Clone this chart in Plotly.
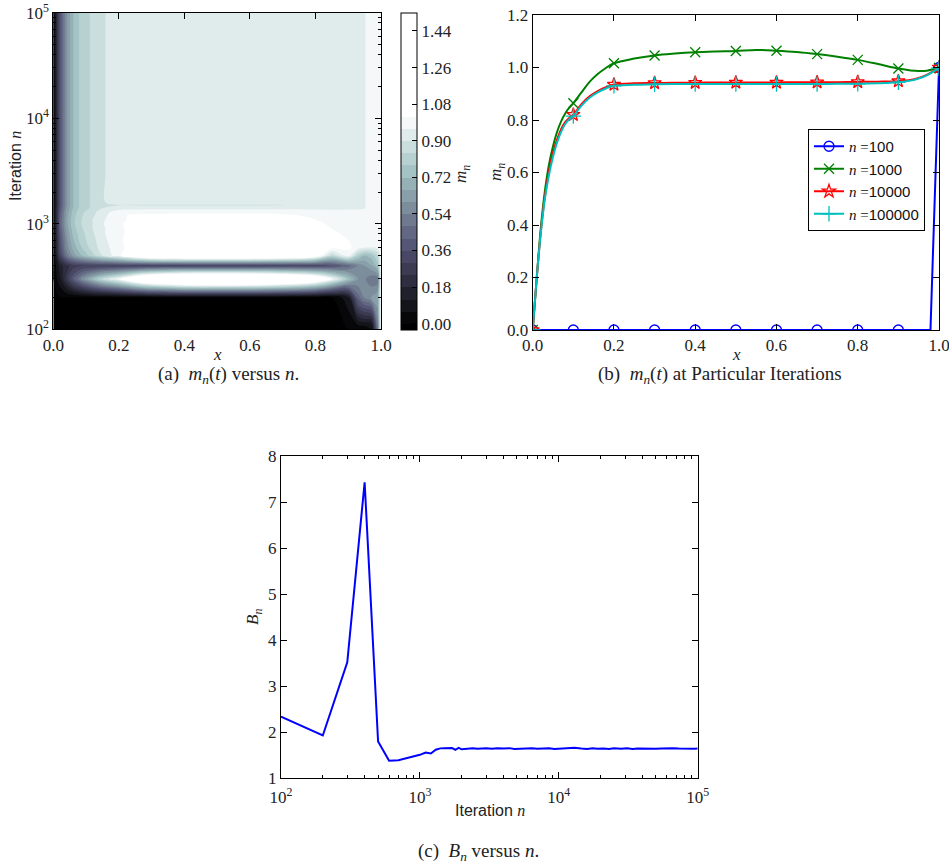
import plotly.graph_objects as go

# ---------------- Panel (a): m_n(x) over iterations (contour) ----------------
grid_x = [0.0, 0.02, 0.04, 0.06, 0.08, 0.10, 0.12, 0.15, 0.20, 0.25, 0.30, 0.40,
          0.50, 0.60, 0.70, 0.80, 0.85, 0.90, 0.93, 0.95, 0.97, 0.99, 1.0]
grid_n = [100, 200, 300, 400, 500, 600, 700, 800, 900, 1000, 1100, 1200, 1300,
          1400, 1500, 1600, 3000, 10000, 30000, 100000]

m_n100 = [0, 0, 0, 0, 0, 0, 0, 0, 0, 0, 0, 0, 0, 0, 0, 0, 0, 0, 0, 0, 0, 0.50, 1.0]
m_n200 = [0, 0, 0, 0, 0, 0, 0, 0, 0, 0, 0, 0, 0, 0, 0, 0, 0, 0.10, 0.45, 0.55, 0.60, 0.65, 1.0]
m_n300 = [0, 0.10, 0.25, 0.40, 0.52, 0.63, 0.72, 0.85, 1.00, 1.20, 1.35, 1.48, 1.50, 1.48, 1.40, 1.22, 1.00, 0.75, 0.60, 0.55, 0.50, 0.50, 1.0]
m_n400 = [0, 0.15, 0.22, 0.27, 0.29, 0.30, 0.30, 0.30, 0.30, 0.30, 0.30, 0.30, 0.30, 0.30, 0.31, 0.33, 0.37, 0.45, 0.55, 0.60, 0.65, 0.75, 1.0]
m_n500 = [0, 0.30, 0.50, 0.62, 0.70, 0.76, 0.82, 0.90, 1.00, 1.15, 1.25, 1.30, 1.30, 1.30, 1.25, 1.10, 0.85, 1.00, 0.80, 0.72, 0.75, 0.85, 1.0]
m_n600 = [0, 0.35, 0.56, 0.68, 0.76, 0.82, 0.87, 0.93, 1.00, 1.06, 1.12, 1.15, 1.15, 1.15, 1.14, 1.10, 1.05, 1.03, 1.00, 0.98, 0.97, 0.98, 1.0]
m_n700 = [0, 0.37, 0.58, 0.71, 0.79, 0.84, 0.88, 0.94, 1.01, 1.05, 1.09, 1.12, 1.12, 1.12, 1.11, 1.08, 1.05, 1.02, 1.00, 0.99, 0.98, 0.99, 1.0]
m_n800 = [0, 0.39, 0.60, 0.73, 0.80, 0.85, 0.89, 0.95, 1.01, 1.04, 1.07, 1.09, 1.09, 1.09, 1.08, 1.06, 1.03, 1.01, 0.99, 0.99, 0.98, 0.99, 1.0]
m_n900 = [0, 0.41, 0.62, 0.75, 0.82, 0.86, 0.90, 0.95, 1.01, 1.04, 1.05, 1.07, 1.07, 1.07, 1.06, 1.04, 1.02, 1.00, 0.99, 0.99, 0.99, 0.99, 1.0]
m_n1000 = [0, 0.42, 0.64, 0.76, 0.83, 0.864, 0.90, 0.955, 1.016, 1.034, 1.046, 1.058, 1.063, 1.064, 1.051, 1.029, 1.013, 0.996, 0.99, 0.987, 0.988, 0.995, 0.999]
m_n1100 = [0, 0.42, 0.64, 0.76, 0.83, 0.86, 0.90, 0.95, 1.01, 1.03, 1.04, 1.05, 1.05, 1.05, 1.04, 1.02, 1.01, 0.99, 0.99, 0.99, 0.99, 0.99, 1.0]
m_n1200 = [0, 0.41, 0.63, 0.75, 0.82, 0.86, 0.89, 0.94, 1.01, 1.03, 1.03, 1.04, 1.04, 1.04, 1.03, 1.01, 1.00, 0.99, 0.99, 0.99, 0.99, 0.99, 1.0]
m_n1300 = [0, 0.40, 0.62, 0.74, 0.81, 0.85, 0.88, 0.93, 0.99, 1.00, 1.00, 1.00, 1.00, 1.00, 1.00, 0.99, 0.98, 0.98, 0.98, 0.98, 0.985, 0.99, 1.0]
m_n1400 = [0, 0.38, 0.60, 0.72, 0.79, 0.82, 0.86, 0.90, 0.935, 0.94, 0.945, 0.945, 0.945, 0.945, 0.945, 0.945, 0.945, 0.948, 0.952, 0.958, 0.975, 0.99, 1.0]
m_n1500 = [0, 0.37, 0.59, 0.715, 0.785, 0.82, 0.855, 0.89, 0.895, 0.895, 0.895, 0.895, 0.895, 0.895, 0.90, 0.93, 0.943, 0.946, 0.950, 0.958, 0.975, 0.99, 1.0]
m_plateau = [0, 0.37, 0.59, 0.715, 0.785, 0.82, 0.855, 0.893, 0.93, 0.935, 0.937, 0.938, 0.939, 0.94, 0.94, 0.941, 0.943, 0.946, 0.950, 0.958, 0.975, 0.99, 1.0]

z_rows = [m_n100, m_n200, m_n300, m_n400, m_n500, m_n600, m_n700, m_n800, m_n900,
          m_n1000, m_n1100, m_n1200, m_n1300, m_n1400, m_n1500,
          m_plateau, m_plateau, m_plateau, m_plateau, m_plateau]

cbar_ticks = [0.00, 0.18, 0.36, 0.54, 0.72, 0.90, 1.08, 1.26, 1.44]

# ---------------- Panel (b): m_n(x) at particular iterations ----------------
xb = [0.0, 0.01, 0.02, 0.03, 0.04, 0.05, 0.06, 0.07, 0.08, 0.09, 0.10, 0.12, 0.14,
      0.16, 0.18, 0.20, 0.25, 0.30, 0.35, 0.40, 0.45, 0.50, 0.55, 0.60, 0.65, 0.70,
      0.75, 0.80, 0.85, 0.90, 0.93, 0.95, 0.97, 0.99, 1.0]
m_1000 = [0, 0.20, 0.39, 0.53, 0.63, 0.70, 0.755, 0.795, 0.825, 0.847, 0.864, 0.905,
          0.945, 0.975, 0.998, 1.016, 1.034, 1.046, 1.053, 1.058, 1.061, 1.063, 1.067,
          1.064, 1.059, 1.051, 1.041, 1.029, 1.013, 0.996, 0.989, 0.987, 0.988, 0.995, 0.999]
m_10000 = [0, 0.20, 0.375, 0.51, 0.605, 0.675, 0.725, 0.765, 0.792, 0.808, 0.82, 0.86,
           0.89, 0.91, 0.925, 0.935, 0.940, 0.941, 0.942, 0.942, 0.943, 0.943, 0.943,
           0.943, 0.944, 0.944, 0.944, 0.945, 0.946, 0.948, 0.952, 0.960, 0.972, 0.990, 1.0]
m_100000 = [0, 0.20, 0.37, 0.50, 0.59, 0.66, 0.715, 0.755, 0.785, 0.803, 0.815, 0.855,
            0.885, 0.905, 0.92, 0.93, 0.934, 0.936, 0.937, 0.937, 0.937, 0.937, 0.937,
            0.937, 0.937, 0.937, 0.938, 0.938, 0.940, 0.944, 0.950, 0.958, 0.970, 0.988, 0.998]
xb_100 = [0.0, 0.1, 0.2, 0.3, 0.4, 0.5, 0.6, 0.7, 0.8, 0.9, 0.979, 1.0]
m_100 = [0, 0, 0, 0, 0, 0, 0, 0, 0, 0, 0.0, 1.0]

# ---------------- Panel (c): B_n versus n ----------------
n_c = [100, 200, 300, 400, 500, 600, 700, 800, 900, 1000, 1100, 1200, 1300, 1400,
       1500, 1600, 1700, 1800, 1900, 2000, 2200, 2400, 2600, 2800, 3000, 3300, 3600,
       4000, 4400, 4800, 5300, 5800, 6400, 7000, 7700, 8500, 9300, 10000, 11000,
       12000, 13000, 14500, 16000, 17500, 19000, 21000, 23000, 25000, 28000, 31000,
       34000, 37000, 41000, 45000, 50000, 55000, 60000, 66000, 73000, 80000, 88000,
       95000, 100000]
B_c = [2.34, 1.93, 3.52, 7.43, 1.80, 1.38, 1.39, 1.43, 1.48, 1.51, 1.56, 1.54, 1.62,
       1.65, 1.655, 1.65, 1.66, 1.62, 1.66, 1.63, 1.645, 1.655, 1.64, 1.65, 1.655,
       1.64, 1.65, 1.645, 1.655, 1.635, 1.645, 1.64, 1.65, 1.64, 1.648, 1.652, 1.638,
       1.645, 1.64, 1.65, 1.662, 1.645, 1.638, 1.652, 1.64, 1.648, 1.638, 1.652, 1.642,
       1.65, 1.638, 1.648, 1.642, 1.652, 1.64, 1.648, 1.642, 1.65, 1.645, 1.64, 1.648,
       1.642, 1.645]

# ---------------- styling helpers ----------------
SERIF = "Liberation Serif"
SANS = "Liberation Sans"
W, H = 949, 865
INK = "#222"


def px_x(p):
    return p / W


def px_y(p):
    return 1 - p / H


# bone colormap (matplotlib) mapped onto the contour colour domain
VMAX = 1.02
LEV_START, LEV_END, LEV_SIZE = 0.0, 1.5, 0.06


def frac(z):
    return (z + LEV_SIZE / 2) / (LEV_END + LEV_SIZE)


bone = [
    [0.0, "rgb(0,0,0)"],
    [frac(0.0), "rgb(0,0,0)"],
    [frac(0.365 * VMAX), "rgb(81,81,113)"],
    [frac(0.746 * VMAX), "rgb(166,198,198)"],
    [frac(VMAX), "rgb(255,255,255)"],
    [1.0, "rgb(255,255,255)"],
]

fig = go.Figure()

fig.add_trace(go.Contour(
    x=grid_x, y=grid_n, z=z_rows,
    xaxis="x", yaxis="y",
    colorscale=bone, zmin=-LEV_SIZE / 2, zmax=LEV_END + LEV_SIZE / 2,
    autocontour=False,
    contours=dict(start=LEV_START, end=LEV_END, size=LEV_SIZE, coloring="fill"),
    line=dict(width=0, smoothing=1.0),
    showscale=True,
    colorbar=dict(
        x=px_x(401), xanchor="left", xpad=0, ypad=0,
        y=px_y(12.7), yanchor="top",
        len=317 / H, lenmode="fraction", thickness=16,
        outlinewidth=1, outlinecolor="black",
        tickmode="array", tickvals=cbar_ticks,
        ticktext=["%.2f" % v for v in cbar_ticks],
        ticks="inside", ticklen=5, tickcolor="black",
        tickfont=dict(family=SERIF, size=17, color=INK),
    ),
    hoverinfo="skip",
))

# panel (b) lines
series = [
    ("<i>n</i> =", "100", xb_100, m_100, "#0000ff", "circle-open", 10, "linear"),
    ("<i>n</i> =", "1000", xb, m_1000, "#008000", "x-thin-open", 10, "spline"),
    ("<i>n</i> =", "10000", xb, m_10000, "#ff0000", "star-open", 10, "spline"),
    ("<i>n</i> =", "100000", xb, m_100000, "#00bfbf", "cross-thin-open", 11, "spline"),
]
for lab, num, xs, ys, col, sym, ms, shp in series:
    fig.add_trace(go.Scatter(
        x=xs, y=ys, mode="lines", xaxis="x2", yaxis="y2",
        line=dict(color=col, width=2, shape=shp),
        showlegend=False, hoverinfo="skip"))
    mx = [xv for xv in xs if abs(xv * 10 - round(xv * 10)) < 1e-9]
    my = [yv for xv, yv in zip(xs, ys) if abs(xv * 10 - round(xv * 10)) < 1e-9]
    fig.add_trace(go.Scatter(
        x=mx, y=my, mode="markers", xaxis="x2", yaxis="y2",
        marker=dict(symbol=sym, size=ms, color=col, line=dict(color=col, width=1.3)),
        showlegend=False, hoverinfo="skip"))
for lab, num, xs, ys, col, sym, ms, shp in series:
    fig.add_trace(go.Scatter(
        x=[None], y=[None], mode="lines+markers", xaxis="x2", yaxis="y2",
        line=dict(color=col, width=2),
        marker=dict(symbol=sym, size=ms, color=col, line=dict(color=col, width=1.3)),
        name="<span style='font-family:Liberation Serif'>" + lab + "</span>" + num,
        showlegend=True))

# panel (c)
fig.add_trace(go.Scatter(
    x=n_c, y=B_c, mode="lines", xaxis="x3", yaxis="y3",
    line=dict(color="#0000ff", width=2), showlegend=False, hoverinfo="skip"))

tickfont = dict(family=SERIF, size=17, color=INK)
axis_common = dict(showgrid=False, zeroline=False, showline=True, linecolor="black",
                   linewidth=1, mirror="ticks", ticks="inside", ticklen=6,
                   tickcolor="black", tickfont=tickfont, automargin=False,
                   ticklabeloverflow="allow")

log_minor = [k * 10 ** e for e in range(2, 5) for k in range(2, 10)]
dec_vals = [100, 1000, 10000, 100000]
dec_text = ["10<sup>2</sup>", "10<sup>3</sup>", "10<sup>4</sup>", "10<sup>5</sup>"]
x01 = [0.0, 0.2, 0.4, 0.6, 0.8, 1.0]
minor_log = dict(tickmode="array", tickvals=log_minor, ticks="inside",
                 ticklen=3, tickcolor="black")


def label(x, y, text, family=SERIF, size=17, angle=0):
    return dict(x=px_x(x), y=px_y(y), xref="paper", yref="paper", showarrow=False,
                text=text, textangle=angle, xanchor="center", yanchor="middle",
                font=dict(family=family, size=size, color=INK))


iter_n = "Iteration <span style='font-family:Liberation Serif'><i>n</i></span>"

fig.update_layout(
    template="none",
    width=W, height=H,
    margin=dict(l=0, r=0, t=0, b=0, pad=0, autoexpand=False),
    paper_bgcolor="white", plot_bgcolor="white",
    font=dict(family=SERIF, size=17, color=INK),
    xaxis=dict(domain=[px_x(53.3), px_x(381)], range=[0, 1], anchor="y",
               tickmode="array", tickvals=x01, ticktext=["%.1f" % v for v in x01],
               **axis_common),
    yaxis=dict(domain=[px_y(329.3), px_y(12.7)], type="log", range=[2, 5], anchor="x",
               tickmode="array", tickvals=dec_vals, ticktext=dec_text,
               minor=minor_log, **axis_common),
    xaxis2=dict(domain=[px_x(532.7), px_x(939)], range=[0, 1], anchor="y2",
                tickmode="array", tickvals=x01, ticktext=["%.1f" % v for v in x01],
                **axis_common),
    yaxis2=dict(domain=[px_y(330), px_y(15)], range=[0, 1.2], anchor="x2",
                tickmode="array", tickvals=[0, 0.2, 0.4, 0.6, 0.8, 1.0, 1.2],
                ticktext=["0.0", "0.2", "0.4", "0.6", "0.8", "1.0", "1.2"],
                **axis_common),
    xaxis3=dict(domain=[px_x(281), px_x(697.7)], type="log", range=[2, 5], anchor="y3",
                tickmode="array", tickvals=dec_vals, ticktext=dec_text,
                minor=minor_log, ticklabelstandoff=3, **axis_common),
    yaxis3=dict(domain=[px_y(778.3), px_y(456)], range=[1, 8], anchor="x3",
                tickmode="array", tickvals=[1, 2, 3, 4, 5, 6, 7, 8],
                **axis_common),
    legend=dict(x=px_x(808), y=px_y(129), xanchor="left", yanchor="top",
                bordercolor="black", borderwidth=1, bgcolor="white",
                font=dict(family=SANS, size=15, color="#111"),
                itemwidth=30, tracegroupgap=0),
    annotations=[
        # axis titles
        label(15, 166, iter_n, family=SANS, size=16, angle=-90),
        label(217, 354, "<i>x</i>"),
        label(462, 174, "<i>m<sub>n</sub></i>", angle=-90),
        label(497, 172, "<i>m<sub>n</sub></i>", angle=-90),
        label(736, 354, "<i>x</i>"),
        label(254, 617, "<i>B<sub>n</sub></i>", angle=-90),
        label(489.5, 810, iter_n, family=SANS, size=16),
        # captions
        label(228.5, 375, "(a)  <i>m<sub>n</sub></i>(<i>t</i>) versus <i>n</i>.", size=19),
        label(719.5, 375, "(b)  <i>m<sub>n</sub></i>(<i>t</i>) at Particular Iterations", size=19),
        label(478.5, 852, "(c)  <i>B<sub>n</sub></i> versus <i>n</i>.", size=19),
    ],
)

fig.write_html("out.html")
